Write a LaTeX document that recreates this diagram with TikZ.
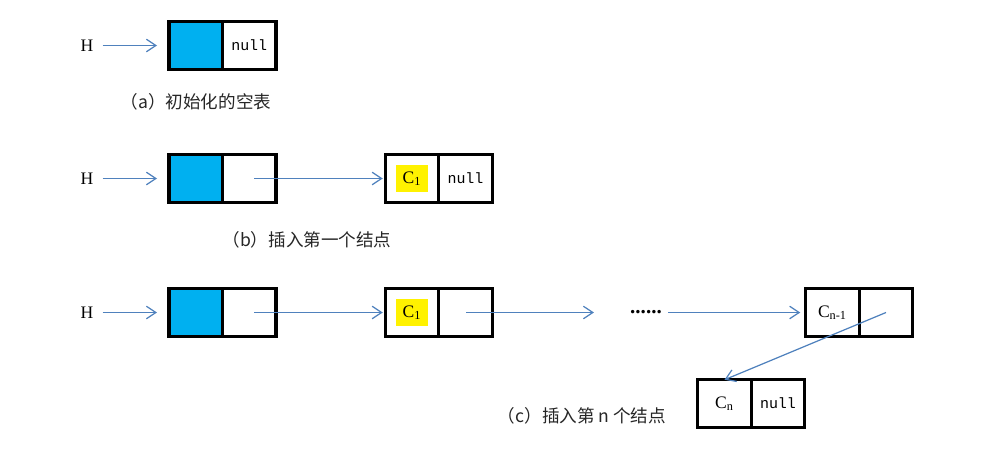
\documentclass[tikz,border=0pt]{standalone}
\usepackage{fontspec}
\setmainfont{Liberation Serif}
\setmonofont{Liberation Mono}
\newfontfamily\cjk{Noto Sans CJK SC}
\usepackage{tikz}
\usetikzlibrary{positioning}
\usetikzlibrary{arrows.meta}
\definecolor{headblue}{RGB}{0,176,240}
\definecolor{linkblue}{RGB}{79,129,189}
\newcommand{\nullword}{{\fontsize{8.5}{10}\selectfont\texttt{null}}}
\newcommand{\hlmark}[1]{{\setlength{\fboxsep}{3.5pt}\colorbox{yellow}{#1}}}
\newcommand{\widthcell}{1.07cm}
\newcommand{\heightcell}{0.95cm}
\tikzset{
    cell/.style={draw, rectangle, line width=1.8pt, outer sep=0pt, minimum width=\widthcell, minimum height=\heightcell, font=\fontsize{10}{12}\selectfont},
    headcell/.style={cell, fill=headblue},
    nextcell/.style={cell, right=0pt of #1},
    headlabel/.style={font=\fontsize{10}{12}\selectfont},
    subtitle/.style={font=\cjk\fontsize{10}{12}\selectfont, text=black!85},
    ptr/.style={->, linkblue, line width=0.7pt},
    hptr/.style={ptr, shorten <=0.06cm, shorten >=0.24cm},
    link/.style={ptr, shorten <=0.1cm, shorten >=0.05cm}
}

\begin{document}
\begin{tikzpicture}[x=0.02cm, y=-0.02cm, >={Straight Barb[length=1.9mm,width=2.5mm]}]
    \useasboundingbox (0,0) rectangle (1000,450);

    \node[headlabel] (Ha) at (87,45.5) {H};
    \node[headcell] (a1) at (195.75,45.5) {};
    \node[nextcell=a1] (a2) {\nullword};
    \node[subtitle] (capa) at (196,102) {（a）初始化的空表};

    \node[headlabel] (Hb) at (87,178.5) {H};
    \node[headcell] (b1) at (195.75,178.5) {};
    \node[nextcell=b1] (b2) {};
    \node[cell] (b3) at (412,178.5) {\hlmark{C\textsubscript{1}}};
    \node[nextcell=b3] (b4) {\nullword};
    \node[subtitle] (capb) at (307,240) {（b）插入第一个结点};

    \node[headlabel] (Hc) at (87,312.5) {H};
    \node[headcell] (c1) at (195.75,312.5) {};
    \node[nextcell=c1] (c2) {};
    \node[cell] (c3) at (412,312.5) {\hlmark{C\textsubscript{1}}};
    \node[nextcell=c3] (c4) {};
    \node[font=\fontsize{12}{14}\selectfont\bfseries] (dots) at (646,312.5) {......};
    \node[cell] (c5) at (832.5,312.5) {C\textsubscript{n-1}};
    \node[nextcell=c5] (c6) {};
    \node[cell] (c7) at (724.5,403.5) {C\textsubscript{n}};
    \node[nextcell=c7] (c8) {\nullword};
    \node[subtitle] (capc) at (582,416) {（c）插入第 n 个结点};

    \draw[hptr] (Ha) -- (a1);
    \draw[hptr] (Hb) -- (b1);
    \draw[hptr] (Hc) -- (c1);
    \draw[link] (b2.center) -- (b3);
    \draw[link] (c2.center) -- (c3);
    \draw[ptr, shorten <=0.02cm, shorten >=0.6cm] (c4.center) -- (dots);
    \draw[ptr, shorten >=0.11cm] (dots) -- (c5);
    \draw[ptr] (c6.center) -- (c7.north);
\end{tikzpicture}
\end{document}
